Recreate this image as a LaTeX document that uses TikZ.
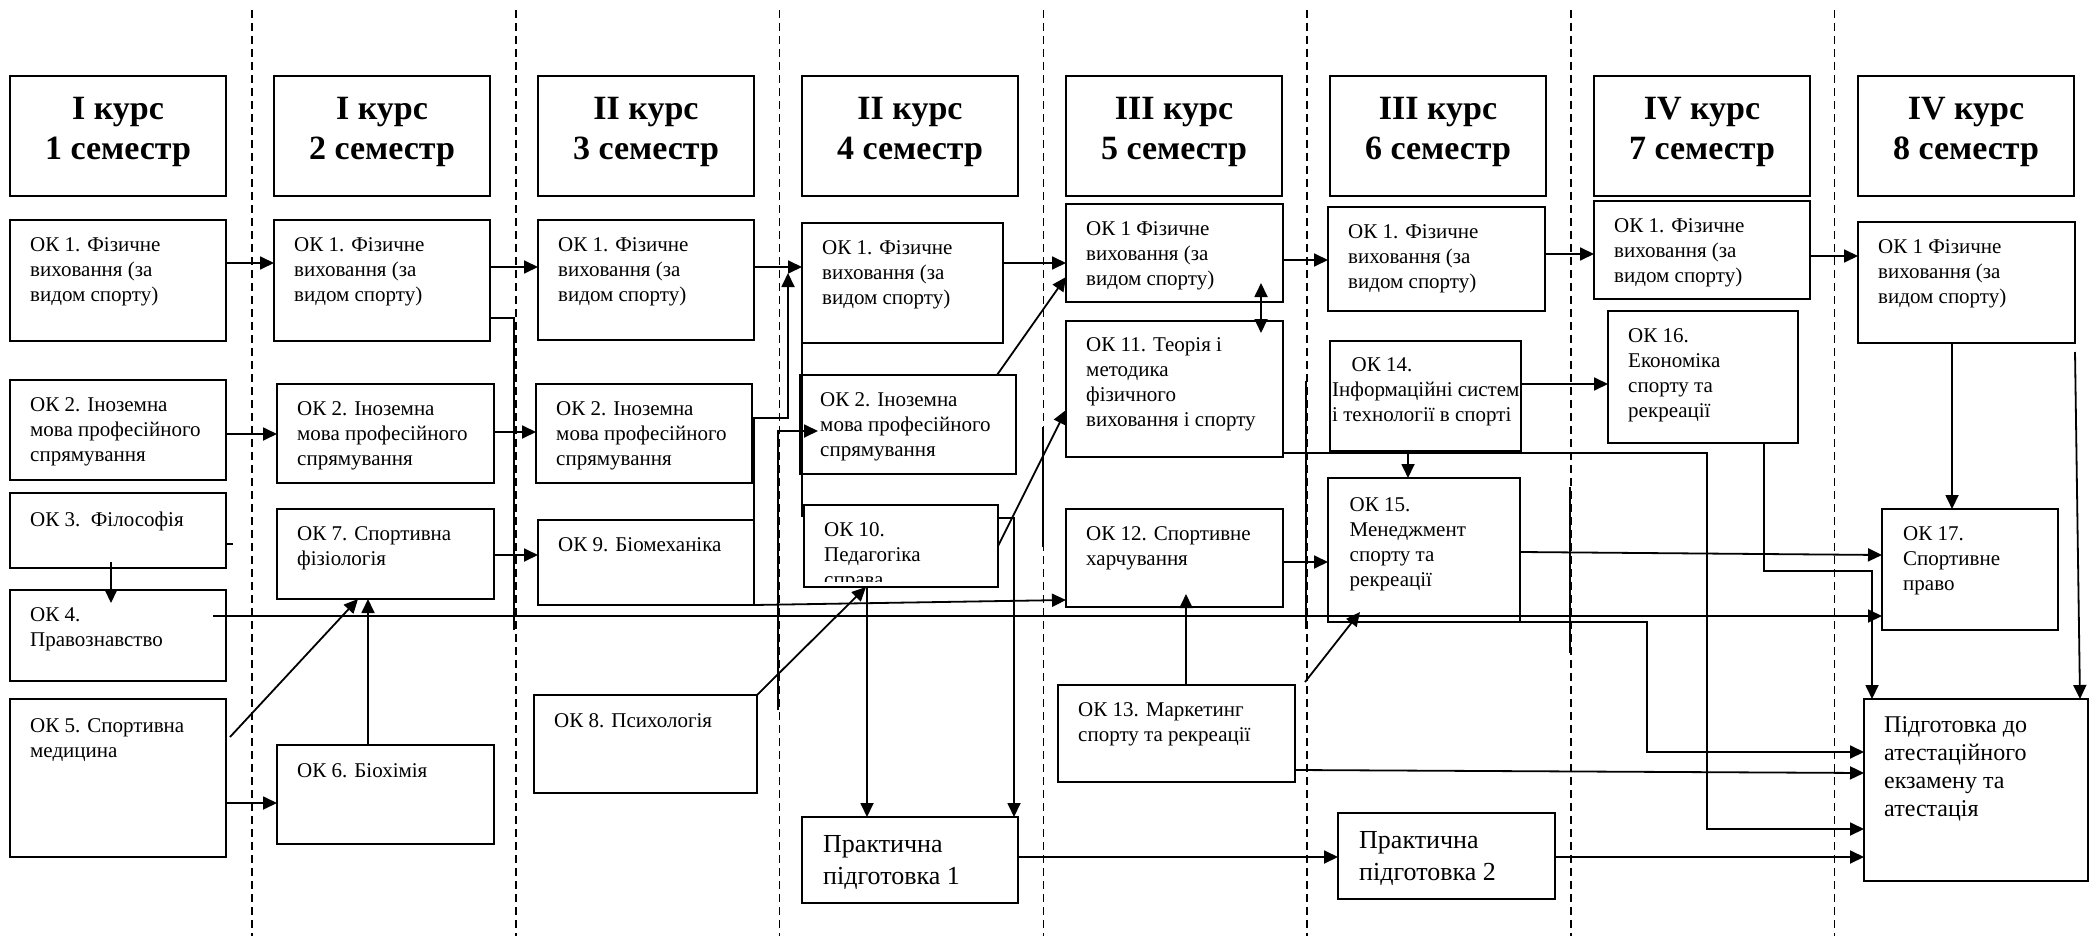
\documentclass[tikz,border=0pt]{standalone}
\usepackage{fontspec}
\setmainfont{Liberation Serif}
\usetikzlibrary{arrows.meta}

% box from (x1,y1) to (x2,y2), its text in the upper left corner
\newcommand{\okbox}[7][pad]{
  \node[box, minimum width={#5-#3}, minimum height={#6-#4}] (#2) at ({(#3+#5)/2},{(#4+#6)/2}) {};
  \node[boxtext, #1] at (#2.north west) {#7};
}

\tikzset{
  box/.style={draw, line width=2pt, inner sep=0pt, outer sep=0pt},
  boxtext/.style={anchor=north west, align=left, inner sep=0pt, font=\fontsize{21}{25}\selectfont},
  pad/.style={xshift=20pt, yshift=-17pt},
  bigtext/.style={xshift=21pt, yshift=-18pt, font=\fontsize{26}{32}\selectfont},
  examtext/.style={xshift=20pt, yshift=-17.5pt, font=\fontsize{24}{28}\selectfont},
  titletext/.style={align=center, inner sep=0pt, font=\bfseries\fontsize{34}{40}\selectfont},
  arr/.style={line width=1.8pt, -{Triangle[length=14pt,width=13pt]}},
  arrboth/.style={line width=1.8pt, {Triangle[length=14pt,width=13pt]}-{Triangle[length=14pt,width=13pt]}},
  link/.style={line width=1.8pt},
  sep/.style={line width=1.5pt, dash pattern=on 8pt off 5pt}
}

\begin{document}
\begin{tikzpicture}[x=1pt, y=-1pt]
\useasboundingbox (0,0) rectangle (2098,936);

% semester borders
\foreach \i in {0,...,6}
  \draw[sep] ({252+263.75*\i},10) -- ({252+263.75*\i},936);

% semester headings
\foreach \sem/\yr in {1/I,2/I,3/II,4/II,5/III,6/III,7/IV,8/IV} {
  \node[box, minimum width=216, minimum height=120] (t\sem) at ({118+264*(\sem-1)},136) {};
  \node[titletext] at ([yshift=4pt]t\sem.center) {\yr\ курс\\\sem\ семестр};
}

% 1 semester
\okbox{c1ok1}{10}{220}{226}{341}{ОК 1. Фізичне\\виховання (за\\видом спорту)}
\okbox{c1ok2}{10}{380}{226}{480}{ОК 2. Іноземна\\мова професійного\\спрямування}
\okbox[xshift=20pt, yshift=-19pt]{c1ok3}{10}{493}{226}{568}{ОК 3.\ \ Філософія}
\okbox{c1ok4}{10}{590}{226}{681}{ОК 4.\\Правознавство}
\okbox[xshift=20pt, yshift=-19pt]{c1ok5}{10}{699}{226}{857}{ОК 5. Спортивна\\медицина}

% 2 semester
\okbox{c2ok1}{274}{220}{490}{341}{ОК 1. Фізичне\\виховання (за\\видом спорту)}
\okbox{c2ok2}{277}{384}{494}{483}{ОК 2. Іноземна\\мова професійного\\спрямування}
\okbox{c2ok7}{277}{509}{494}{599}{ОК 7. Спортивна\\фізіологія}
\okbox[xshift=20pt, yshift=-18pt]{c2ok6}{277}{745}{494}{844}{ОК 6. Біохімія}

% 3 semester
\okbox{c3ok1}{538}{220}{754}{340}{ОК 1. Фізичне\\виховання (за\\видом спорту)}
\okbox{c3ok2}{536}{384}{752}{483}{ОК 2. Іноземна\\мова професійного\\спрямування}
\okbox{c3ok9}{538}{520}{754}{605}{ОК 9. Біомеханіка}
\okbox[xshift=20pt, yshift=-18pt]{c3ok8}{534}{695}{757}{793}{ОК 8. Психологія}

% 4 semester
\okbox{c4ok1}{802}{223}{1003}{343}{ОК 1. Фізичне\\виховання (за\\видом спорту)}
\okbox{c4ok2}{800}{375}{1016}{474}{ОК 2. Іноземна\\мова професійного\\спрямування}
\node[box, minimum width=194, minimum height=82] (c4ok10) at (901,546) {};
\begin{scope}
  \clip (c4ok10.north west) rectangle ([yshift=6pt]c4ok10.south east);
  \node[boxtext, pad] at (c4ok10.north west) {ОК 10.\\Педагогіка\\справа};
\end{scope}
\okbox[bigtext]{pp1}{802}{817}{1018}{903}{Практична\\підготовка 1}

% 5 semester
\okbox{c5ok1}{1066}{204}{1283}{302}{ОК 1 Фізичне\\виховання (за\\видом спорту)}
\okbox[xshift=20pt, yshift=-16pt]{c5ok11}{1066}{321}{1283}{457}{ОК 11. Теорія і\\методика\\фізичного\\виховання і спорту}
\okbox{c5ok12}{1066}{509}{1283}{607}{ОК 12. Спортивне\\харчування}
\okbox{c5ok13}{1058}{685}{1295}{782}{ОК 13. Маркетинг\\спорту та рекреації}

% 6 semester
\okbox{c6ok1}{1328}{207}{1545}{311}{ОК 1. Фізичне\\виховання (за\\видом спорту)}
\node[box, minimum width=191, minimum height=110] (c6ok14) at (1425.5,396) {};
\begin{scope}
  \clip (c6ok14.north west) rectangle (c6ok14.south east);
  \node[boxtext, xshift=2pt, yshift=-16pt] at (c6ok14.north west) {\hspace*{19.5pt}ОК 14.\\Інформаційні систем\\і технології в спорті};
\end{scope}
\okbox[xshift=21.5pt, yshift=-19pt]{c6ok15}{1328}{478}{1520}{622}{ОК 15.\\Менеджмент\\спорту та\\рекреації}
\okbox[bigtext]{pp2}{1338}{813}{1555}{899}{Практична\\підготовка 2}

% 7 semester
\okbox{c7ok1}{1594}{201}{1810}{299}{ОК 1. Фізичне\\виховання (за\\видом спорту)}
\okbox{c7ok16}{1608}{311}{1798}{443}{ОК 16.\\Економіка\\спорту та\\рекреації}

% 8 semester
\okbox{c8ok1}{1858}{222}{2075}{343}{ОК 1 Фізичне\\виховання (за\\видом спорту)}
\okbox[xshift=21pt, yshift=-17pt]{c8ok17}{1882}{509}{2058}{630}{ОК 17.\\Спортивне\\право}
\okbox[examtext]{exam}{1864}{699}{2088}{881}{Підготовка до\\атестаційного\\екзамену та\\атестація}

% ОК 1 through the semesters
\draw[arr] (c1ok1.east |- 0,263) -- (c2ok1.west |- 0,263);
\draw[arr] (c2ok1.east |- 0,267) -- (c3ok1.west |- 0,267);
\draw[arr] (c3ok1.east |- 0,267) -- (c4ok1.west |- 0,267);
\draw[arr] (c4ok1.east |- 0,263) -- (c5ok1.west |- 0,263);
\draw[arr] (c5ok1.east |- 0,260) -- (c6ok1.west |- 0,260);
\draw[arr] (c6ok1.east |- 0,254) -- (c7ok1.west |- 0,254);
\draw[arr] (c7ok1.east |- 0,256) -- (c8ok1.west |- 0,256);
\draw[arr] (c8ok1.south -| 1952,0) -- (c8ok17.north -| 1952,0);
\coordinate (r81) at (2075,352);
\draw[arr] (r81) -- (exam.north -| 2080,0);
\coordinate (u51) at (1261,283);
\coordinate (d51) at (1261,333);
\draw[arrboth] (u51) -- (d51);

% ОК 2
\draw[arr] (c1ok2.east |- 0,434) -- (c2ok2.west |- 0,434);
\draw[arr] (c2ok2.east |- 0,432) -- (c3ok2.west |- 0,432);
\coordinate (v3) at (778,710);
\coordinate (in42) at (818,431);
\draw[arr] (v3) |- (in42);
\draw[arr] (c4ok2.north -| 997,0) -- (c5ok1.west |- 0,277);

% first year
\coordinate (s3) at (111,562);
\coordinate (in4) at (111,603);
\draw[arr] (s3) -- (in4);
\draw[link] (c1ok3.east |- 0,544) -- ++(7,0);
\coordinate (s4) at (213,616);
\draw[arr] (s4) -- (c8ok17.west |- s4);
\coordinate (s5) at (230,737);
\draw[arr] (s5) -- (c2ok7.south -| 358,0);
\draw[arr] (c1ok5.east |- 0,803) -- (c2ok6.west |- 0,803);
\draw[arr] (c2ok6.north -| 368,0) -- (c2ok7.south -| 368,0);
\coordinate (d21) at (514,630);
\draw[link] (c2ok1.east |- 0,318) -| (d21);
\draw[arr] (c2ok7.east |- 0,555) -- (c3ok9.west |- 0,555);

% second year
\coordinate (k9) at (788,418);
\coordinate (tip41) at (788,273);
\draw[arr] (c3ok9.east |- 0,562) |- (k9) -- (tip41);
\draw[arr] (c3ok8.north east) -- (c4ok10.south -| 866,0);
\draw[link] (c4ok1.north west) -- (c4ok1.north west |- 0,517);
\draw[arr] (c3ok9.south east) -- (c5ok12.west |- 0,600);
\draw[arr] (c4ok10.east) -- (c5ok11.west |- 0,410);
\draw[arr] (c4ok10.south -| 867,0) -- (pp1.north -| 867,0);
\draw[arr] (c4ok10.east |- 0,518) -| (pp1.north -| 1014,0);
\draw[arr] (pp1.east |- 0,857) -- (pp2.west |- 0,857);
\draw[link] (1043,427) -- (1043,547);
\draw[link] (1306,381) -- (1306,629);
\draw[link] (1570,487) -- (1570,653);

% third year
\draw[arr] (c5ok12.east |- 0,562) -- (c6ok15.west |- 0,562);
\coordinate (in12) at (1186,594);
\draw[arr] (c5ok13.north -| in12) -- (in12);
\coordinate (s13) at (1305,682);
\coordinate (in15) at (1360,612);
\draw[arr] (s13) -- (in15);
\coordinate (k11) at (1707,829);
\draw[arr] (c5ok11.east |- 0,453) -| (k11) -- (exam.west |- k11);
\draw[arr] (c5ok13.east |- 0,770) -- (exam.west |- 0,773);
\draw[arr] (c6ok14.south -| 1408,0) -- (c6ok15.north -| 1408,0);
\draw[arr] (c6ok14.east |- 0,384) -- (c7ok16.west |- 0,384);
\draw[arr] (c6ok15.east |- 0,552) -- (c8ok17.west |- 0,555);
\coordinate (k15) at (1647,752);
\draw[arr] (c6ok15.south -| 1431,0) -| (k15) -- (exam.west |- k15);
\draw[arr] (pp2.east |- 0,857) -- (exam.west |- 0,857);

% fourth year
\coordinate (k16) at (1872,571);
\draw[arr] (c7ok16.south -| 1764,0) |- (k16) -- (exam.north -| k16);
\end{tikzpicture}
\end{document}
